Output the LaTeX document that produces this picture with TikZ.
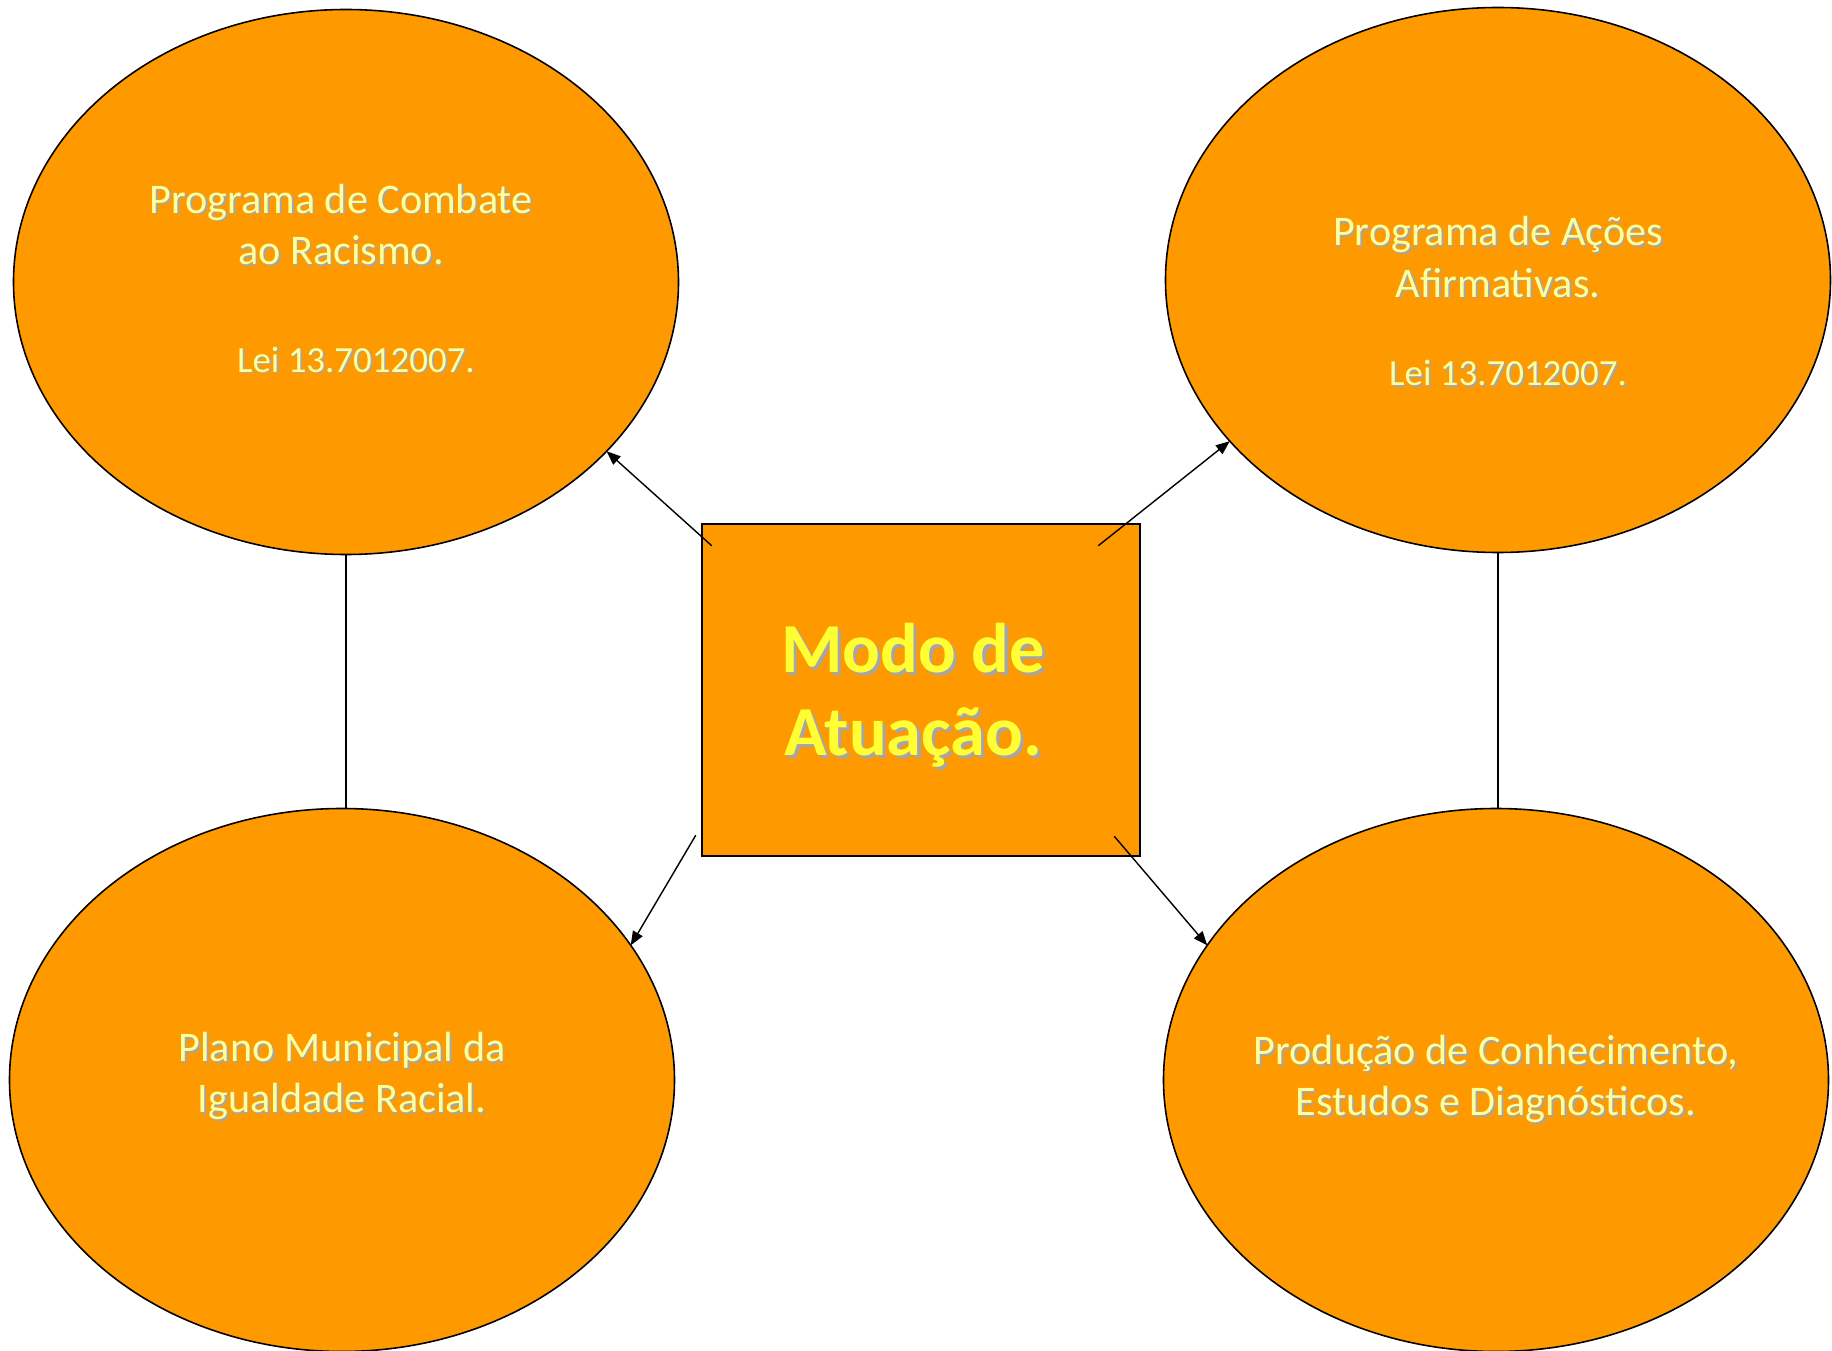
\documentclass[tikz,border=0pt]{standalone}
\usepackage{fontspec}
\setmainfont{Carlito}
\usetikzlibrary{shapes.geometric,arrows.meta}

\definecolor{laranja}{HTML}{FF9900}
\definecolor{amarelo}{HTML}{FFFF33}
\definecolor{amareloclaro}{HTML}{FFFF99}
\definecolor{sombra}{HTML}{A6A6A6}

% text with a small grey shadow behind it
\newcommand{\sombreado}[2]{\makebox[0pt][l]{\raisebox{-#1}{\hspace{#1}\textcolor{sombra}{#2}}}#2}
\newcommand{\sd}[1]{\sombreado{0.5pt}{#1}}
\newcommand{\sdbig}[1]{\sombreado{0.9pt}{#1}}
\newcommand{\lei}{\fontsize{10.5}{12.6}\selectfont}

\begin{document}
\begin{tikzpicture}[
  elip/.style = {draw, ellipse, fill=laranja, line width=0.45pt, inner sep=0pt, outer sep=0pt,
                 minimum width=6.65cm},
  eltxt/.style = {align=center, text=amareloclaro, font=\fontsize{12}{14.6}\selectfont},
  caixa/.style = {draw, rectangle, fill=laranja, line width=0.7pt, minimum width=4.38cm,
                  minimum height=3.32cm},
  seta/.style = {-{Triangle[length=1.4mm,width=1.1mm]}, line width=0.4pt}]
\useasboundingbox (0,0) rectangle (18.32,13.5);

\node[elip, minimum height=5.45cm] (tl) at (3.46,10.68) {};
\node[elip, minimum height=5.45cm] (tr) at (14.98,10.70) {};
\node[elip, minimum height=5.43cm] (bl) at (3.42,2.70) {};
\node[elip, minimum height=5.43cm] (br) at (14.96,2.70) {};
\node[caixa] (box) at (9.21,6.60) {};

\node[eltxt] (tltxt) at ([xshift=-0.05cm,yshift=0.03cm]tl) {\sd{Programa de Combate}\\\sd{ao Racismo.}\\[16pt]\hspace*{8.5pt}\lei\sd{Lei 13.7012007.}};
\node[eltxt] (trtxt) at ([yshift=-0.22cm]tr) {\sd{Programa de Ações}\\\sd{Afirmativas.}\\[10.5pt]\hspace*{5.7pt}\lei\sd{Lei 13.7012007.}};
\node[eltxt] (bltxt) at ([yshift=0.03cm]bl) {\sd{Plano Municipal da}\\\sd{Igualdade Racial.}};
\node[eltxt] (brtxt) at (br) {\sd{Produção de Conhecimento,}\\\sd{Estudos e Diagnósticos.}};
\node[align=center, text=amarelo, font=\fontsize{20}{23.6}\selectfont\bfseries] (boxtxt) at ([xshift=-0.08cm,yshift=-0.07cm]box) {\sdbig{Modo de}\\\sdbig{Atuação.}};

% ligacoes
\coordinate (s1) at ([shift={(0.11,-0.23)}]box.north west);
\coordinate (s2) at ([shift={(-0.43,-0.23)}]box.north east);
\coordinate (s3) at ([shift={(-0.05,0.22)}]box.south west);
\coordinate (s4) at ([shift={(-0.27,0.21)}]box.south east);
\draw[seta] (s1) -- (tl.-33.5);
\draw[seta] (s2) -- (tr.-149.3);
\draw[seta] (s3) -- (bl.25);
\draw[seta] (s4) -- (br.155);
\draw[line width=0.45pt] (tl.south) -- (tl.south |- bl.north);
\draw[line width=0.45pt] (tr.south) -- (tr.south |- br.north);
\end{tikzpicture}
\end{document}
